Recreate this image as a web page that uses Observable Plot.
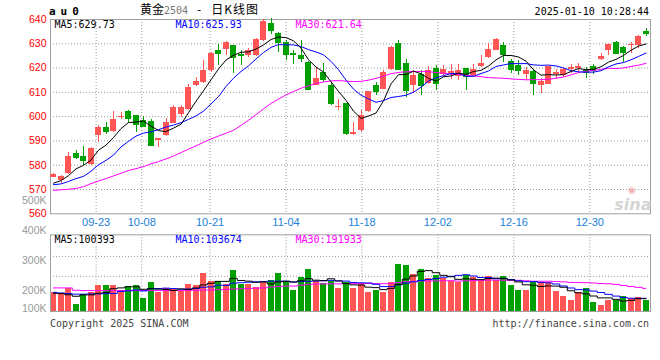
<!DOCTYPE html>
<html><head><meta charset="utf-8">
<script src="https://cdn.jsdelivr.net/npm/d3@7"></script>
<script src="https://cdn.jsdelivr.net/npm/@observablehq/plot@0.6"></script>
<style>
body{margin:0;background:#fff;}
#wrap{position:relative;width:660px;height:360px;overflow:hidden;background:#fff;}
#wrap svg{position:absolute;left:0;}
.t{position:absolute;white-space:pre;}
.mono{font-family:"DejaVu Sans Mono",monospace;font-size:10px;line-height:10px;}
</style></head><body><div id="wrap"></div>
<script>
// ---- data ----
const dates = ["2024-09-11","2024-09-12","2024-09-13","2024-09-18","2024-09-19","2024-09-20","2024-09-23","2024-09-24","2024-09-25","2024-09-26","2024-09-27","2024-09-30",
"2024-10-08","2024-10-09","2024-10-10","2024-10-11","2024-10-14","2024-10-15","2024-10-16","2024-10-17","2024-10-18","2024-10-21","2024-10-22","2024-10-23","2024-10-24","2024-10-25","2024-10-28","2024-10-29","2024-10-30","2024-10-31",
"2024-11-01","2024-11-04","2024-11-05","2024-11-06","2024-11-07","2024-11-08","2024-11-11","2024-11-12","2024-11-13","2024-11-14","2024-11-15","2024-11-18","2024-11-19","2024-11-20","2024-11-21","2024-11-22","2024-11-25","2024-11-26","2024-11-27","2024-11-28","2024-11-29",
"2024-12-02","2024-12-03","2024-12-04","2024-12-05","2024-12-06","2024-12-09","2024-12-10","2024-12-11","2024-12-12","2024-12-13","2024-12-16","2024-12-17","2024-12-18","2024-12-19","2024-12-20","2024-12-23","2024-12-24","2024-12-25","2024-12-26","2024-12-27","2024-12-30","2024-12-31",
"2025-01-02","2025-01-03","2025-01-06","2025-01-07","2025-01-08","2025-01-09","2025-01-10"];
const open = [575.0,573.7,576.7,584.9,583.5,580.5,592.3,595.6,593.7,599.8,
602.0,600.4,598.3,598.0,590.3,592.4,597.2,600.8,603.1,612.7,
614.0,619.1,627.3,627.8,629.1,625.7,625.3,625.0,631.2,638.3,
634.3,630.5,625.9,625.0,622.3,613.0,618.2,613.0,603.8,605.4,
592.5,594.2,602.1,612.7,611.3,619.5,630.2,622.0,612.7,617.5,
613.6,619.8,617.2,617.9,616.4,619.8,616.8,620.5,624.3,627.4,
629.1,622.7,621.2,617.5,618.4,613.0,613.4,617.5,616.8,619.4,
619.8,619.1,620.6,623.4,627.4,630.5,628.4,629.3,629.5,635.2];
const high = [576.4,575.6,585.3,586.0,587.6,587.2,596.4,597.5,602.0,601.7,
602.4,600.6,600.0,598.8,591.0,599.4,604.5,604.5,613.1,616.1,
623.2,626.4,629.8,630.9,629.3,627.1,628.2,632.2,640.0,640.5,
634.8,631.5,627.3,631.2,622.6,620.2,622.0,614.0,607.2,605.6,
597.6,602.4,610.4,614.0,618.9,628.8,631.4,623.6,618.9,619.1,
620.7,620.9,620.9,621.3,621.3,620.0,621.3,625.0,630.1,632.0,
630.5,623.6,623.0,620.2,619.5,615.8,620.8,619.5,620.1,621.3,
621.9,620.2,621.6,626.1,630.2,631.0,628.7,630.5,633.4,636.4];
const low = [574.8,572.6,576.1,582.4,580.0,580.0,589.4,592.6,593.4,599.0,
597.2,593.5,595.5,588.0,587.1,591.7,597.0,599.7,602.4,612.3,
613.6,618.2,620.9,625.0,617.7,620.9,624.3,624.8,630.8,633.9,
626.4,623.0,621.6,622.3,611.0,612.8,614.0,604.5,602.4,592.2,
592.2,593.5,601.7,608.6,611.1,619.1,619.3,607.9,610.0,608.6,
613.2,610.6,616.1,615.4,614.7,610.9,616.1,620.3,624.0,627.2,
622.3,617.7,616.8,615.0,608.6,609.5,613.2,615.4,616.1,617.7,
618.2,615.9,617.2,623.2,625.3,625.8,622.3,626.0,628.2,632.8];
const close = [576.1,575.3,583.5,583.0,581.9,586.9,595.6,594.0,598.7,600.1,
599.4,596.7,596.0,588.3,590.9,597.4,603.8,603.8,612.2,614.5,
619.1,626.2,626.2,630.5,624.3,625.3,627.1,631.9,639.0,635.5,
630.5,625.7,625.5,624.0,611.3,615.7,615.4,605.4,604.1,593.1,
593.5,600.4,610.2,610.2,618.2,628.4,619.5,610.6,616.8,613.0,
619.1,613.6,619.5,618.6,618.9,616.4,619.5,621.9,627.5,631.6,
625.4,619.5,618.9,618.9,613.6,614.5,620.6,618.2,619.5,620.2,
620.5,618.2,619.1,624.7,629.8,626.1,626.4,629.7,633.2,634.2];
const volume = [194,189,206,153,186,194,217,217,217,200,
213,217,174,227,193,207,202,198,220,217,
257,230,230,220,267,222,219,211,226,233,
256,230,200,244,270,230,224,229,208,227,
208,220,194,200,194,228,287,283,253,270,
241,252,239,230,226,250,244,233,248,233,
247,217,200,200,226,226,226,197,181,167,
192,208,161,150,167,167,180,172,178,167].map(v => v * 1000);
// moving-average values before the window is full (from earlier sessions)
const ma5Head = [572.6,573.7,575.7,578.5];
const ma10Head = [572.0,572.3,573.3,574.5,575.4,577.5,580.2,582.0,584.2];
const ma30Head = [569.6,569.9,570.1,570.4,571.2,572.4,573.5,574.5,575.6,576.7,577.8,578.6,579.4,580.6,581.5,582.6,583.8,585.2,586.6,588.0,589.4,590.8,592.0,593.2,594.4,596.4,598.5,600.8,603.2];
const volMa5Head = [191000,190000,186000,181000];
const volMa10Head = [194000,192000,190000,188000,188000,189000,189000,190000,190000];
const volMa30Head = [209,209,209,201,200,200,200,200,200,200,200,200,200,200,200,200,200,200,201,201,202,202,203,204,205,206,207,208,209].map(v => v * 1000);
const tickLabels = ["09-23","10-08","10-21","11-04","11-18","12-02","12-16","12-30"];
const priceTicks = [560,570,580,590,600,610,620,630,640];
const priceGrid = [570,580,590,600,610,620,630];
const volTicks = [200000,300000,400000,500000];
const volFloorLabel = "100K";
const volGrid = [247700,314300];
const priceLegend = ["MA5:629.73","MA10:625.93","MA30:621.64"];
const volLegend = ["MA5:100393","MA10:103674","MA30:191933"];

// ---- derived ----
const N = dates.length;
const idx = d3.range(N);
const RED = "#ff5555", GREEN = "#00a000";
const col = i => close[i] >= open[i] ? RED : GREEN;
const movingAvg = (vals, k, head) => vals.map((_, i) => i >= k - 1 ? d3.mean(vals.slice(i - k + 1, i + 1)) : head[i]);
const ma5 = movingAvg(close, 5, ma5Head), ma10 = movingAvg(close, 10, ma10Head), ma30 = movingAvg(close, 30, ma30Head);
const vma5 = movingAvg(volume, 5, volMa5Head), vma10 = movingAvg(volume, 10, volMa10Head), vma30 = movingAvg(volume, 30, volMa30Head);
const tickIdx = tickLabels.map(l => dates.findIndex(d => d.slice(5) === l));
// Sina lays its date grid out at width/(N-1) per session, slightly wider than the candle pitch
const gridPos = tickIdx.map(d => d * N / (N - 1) - 0.39);

const xDomain = [-0.4, N - 0.4];
const GRID = {stroke: "#999", strokeOpacity: 1, strokeDasharray: "1,2"};
const MONO = "DejaVu Sans Mono";
const LAB = "Liberation Sans";

const main = Plot.plot({
  width: 660, height: 230,
  marginLeft: 50, marginRight: 10, marginTop: 19, marginBottom: 16.7,
  style: {background: "none", overflow: "visible", fontFamily: LAB, fontSize: "10.5px"},
  x: {domain: xDomain, axis: null},
  y: {domain: [560, 640], axis: null},
  marks: [
    Plot.gridY(priceGrid, GRID),
    Plot.gridX(gridPos, GRID),
    Plot.frame({stroke: "#a0a0a0"}),
    Plot.text(["sina"], {frameAnchor: "bottom-right", textAnchor: "end", lineAnchor: "bottom", dx: 1, dy: -4, fontSize: 16, fontWeight: "bold", fontStyle: "italic", fill: "#d4d4d4", fontFamily: "DejaVu Sans"}),
    Plot.text(["◉"], {frameAnchor: "bottom-right", textAnchor: "end", lineAnchor: "bottom", dx: -15, dy: -21, fontSize: 9, fill: "#f0b0b0", fontFamily: "DejaVu Sans"}),
    Plot.ruleX(idx, {x: i => i, y1: i => low[i], y2: i => high[i], stroke: col, shapeRendering: "crispEdges"}),
    Plot.rect(idx, {x1: i => i - 0.4, x2: i => i + 0.4, y1: i => open[i], y2: i => close[i], fill: col, shapeRendering: "crispEdges"}),
    Plot.ruleY(idx, {y: i => close[i], x1: i => i - 0.4, x2: i => i + 0.4, stroke: col, shapeRendering: "crispEdges"}),
    Plot.line(idx, {x: i => i, y: i => ma30[i], stroke: "#ff00ff", strokeWidth: 1}),
    Plot.line(idx, {x: i => i, y: i => ma10[i], stroke: "#0000ff", strokeWidth: 1}),
    Plot.line(idx, {x: i => i, y: i => ma5[i], stroke: "#000", strokeWidth: 1}),
    Plot.axisY(priceTicks, {tickSize: 0, tickPadding: 4, color: "#f00", fontFamily: LAB, fontSize: 10.5}),
    Plot.text(gridPos, {x: d => d, text: (d, i) => tickLabels[i], frameAnchor: "bottom", lineAnchor: "top", dy: 4, fill: "#1a7fd8", fontFamily: LAB, fontSize: 11}),
    Plot.text([priceLegend[0]], {frameAnchor: "top-left", textAnchor: "start", lineAnchor: "top", dx: 4, dy: 1, fill: "#000", fontFamily: MONO, fontSize: 10}),
    Plot.text([priceLegend[1]], {frameAnchor: "top-left", textAnchor: "start", lineAnchor: "top", dx: 125, dy: 1, fill: "#0000ff", fontFamily: MONO, fontSize: 10}),
    Plot.text([priceLegend[2]], {frameAnchor: "top-left", textAnchor: "start", lineAnchor: "top", dx: 245, dy: 1, fill: "#ff00ff", fontFamily: MONO, fontSize: 10})
  ]
});
main.style.top = "0px";

const vol = Plot.plot({
  width: 660, height: 130,
  marginLeft: 50, marginRight: 10, marginTop: 44.3, marginBottom: 9,
  style: {background: "none", overflow: "visible", fontFamily: LAB, fontSize: "10.5px"},
  x: {domain: xDomain, axis: null},
  y: {domain: [130000, 386700], axis: null},
  marks: [
    Plot.gridY(volGrid, GRID),
    Plot.gridX(gridPos, GRID),
    Plot.rect(idx, {x1: i => i - 0.4, x2: i => i + 0.4, y1: () => 0, y2: i => volume[i], fill: col, clip: true, shapeRendering: "crispEdges"}),
    Plot.frame({stroke: "#a0a0a0"}),
    Plot.line(idx, {x: i => i, y: i => vma30[i], stroke: "#ff00ff", curve: "step", strokeWidth: 1}),
    Plot.line(idx, {x: i => i, y: i => vma10[i], stroke: "#0000ff", curve: "step", strokeWidth: 1}),
    Plot.line(idx, {x: i => i, y: i => vma5[i], stroke: "#000", curve: "step", strokeWidth: 1}),
    Plot.axisY(volTicks, {tickSize: 0, tickPadding: 4, tickFormat: d => d / 1000 + "K", color: "#999", fontFamily: LAB, fontSize: 10.5}),
    Plot.text([volFloorLabel], {frameAnchor: "bottom-left", textAnchor: "end", dx: -4, fill: "#999", fontFamily: LAB, fontSize: 10.5}),
    Plot.text([volLegend[0]], {frameAnchor: "top-left", textAnchor: "start", lineAnchor: "top", dx: 4, dy: 1, fill: "#000", fontFamily: MONO, fontSize: 10}),
    Plot.text([volLegend[1]], {frameAnchor: "top-left", textAnchor: "start", lineAnchor: "top", dx: 125, dy: 1, fill: "#0000ff", fontFamily: MONO, fontSize: 10}),
    Plot.text([volLegend[2]], {frameAnchor: "top-left", textAnchor: "start", lineAnchor: "top", dx: 245, dy: 1, fill: "#ff00ff", fontFamily: MONO, fontSize: 10})
  ]
});
vol.style.top = "190px";

const wrap = document.getElementById("wrap");
wrap.appendChild(main);
wrap.appendChild(vol);

function addText(html, css, cls) {
  const d = document.createElement("div");
  d.className = "t " + (cls || "");
  d.innerHTML = html;
  Object.assign(d.style, css);
  wrap.appendChild(d);
}
addText("au0", {left: "49px", top: "6px", fontFamily: MONO, fontWeight: "bold", fontSize: "11px", lineHeight: "11px", letterSpacing: "5px", color: "#000"});
addText('黄金<span style="font-family:DejaVu Sans Mono;font-size:10px;color:#777">2504</span><span style="margin-left:9px">-</span><span style="margin-left:10px;letter-spacing:1px">日K线图</span>',
  {left: "140px", top: "2px", fontFamily: "Noto Sans CJK SC", fontSize: "12px", lineHeight: "14px", color: "#000"});
addText("2025-01-10 10:28:44", {right: "11px", top: "6.5px", color: "#000"}, "mono");
addText("Copyright 2025 SINA.COM", {left: "50px", top: "318.8px", color: "#444"}, "mono");
addText("http://finance.sina.com.cn", {right: "11px", top: "318.8px", color: "#444"}, "mono");
</script></body></html>
